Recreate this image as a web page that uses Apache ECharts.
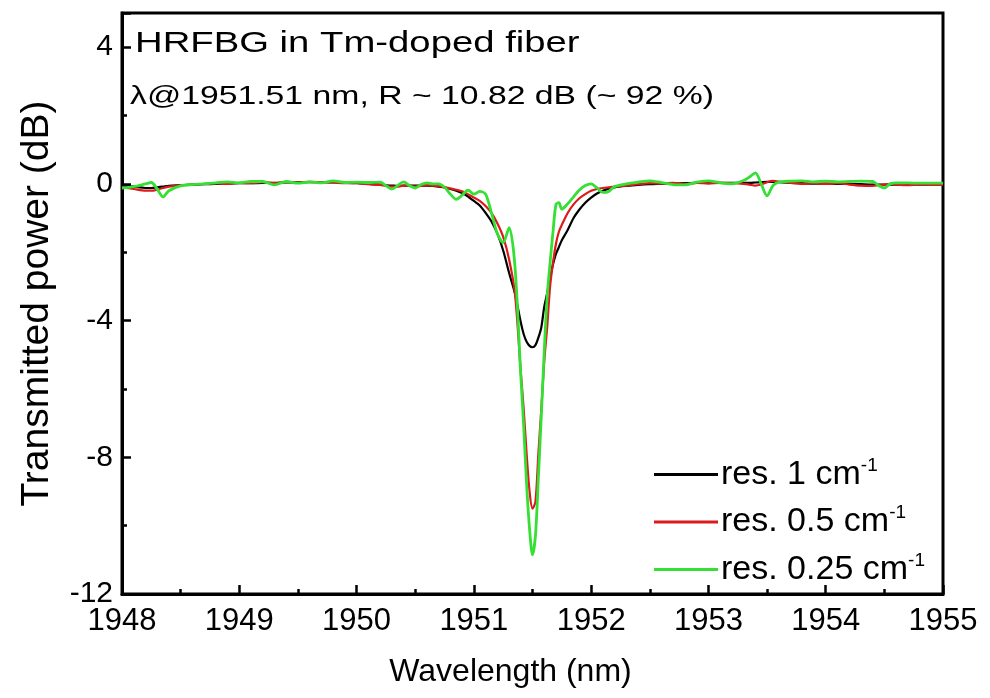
<!DOCTYPE html>
<html>
<head>
<meta charset="utf-8">
<script src="https://cdn.jsdelivr.net/npm/echarts@6/dist/echarts.min.js"></script>
<style>
html,body{margin:0;padding:0;background:#fff;}
#chart{width:990px;height:698px;}
</style>
</head>
<body>
<div id="chart"></div>
<script>
// Wavelength grid (nm)
const wavelengths = [
  1948.00,1948.10,1948.20,1948.25,1948.30,1948.35,1948.40,1948.50,1948.60,1948.70,
  1948.80,1948.90,1949.00,1949.10,1949.20,1949.30,1949.40,1949.50,1949.60,1949.70,
  1949.80,1949.90,1950.00,1950.10,1950.20,1950.25,1950.30,1950.35,1950.40,1950.45,
  1950.50,1950.55,1950.60,1950.65,1950.70,1950.75,1950.80,1950.85,1950.90,1950.95,
  1951.00,1951.05,1951.10,1951.15,1951.20,1951.25,1951.30,1951.35,1951.40,1951.425,
  1951.45,1951.475,1951.50,1951.525,1951.55,1951.575,1951.60,1951.625,1951.65,1951.675,
  1951.70,1951.725,1951.75,1951.80,1951.85,1951.90,1951.95,1952.00,1952.05,1952.10,
  1952.15,1952.20,1952.30,1952.40,1952.50,1952.60,1952.70,1952.80,1952.90,1953.00,
  1953.10,1953.20,1953.30,1953.35,1953.40,1953.45,1953.50,1953.55,1953.60,1953.70,
  1953.80,1953.90,1954.00,1954.10,1954.20,1954.30,1954.40,1954.45,1954.50,1954.55,
  1954.60,1954.70,1954.80,1954.90,1955.00
];
// res. 1 cm-1 (black)
const res1 = [
  -0.05,-0.08,-0.12,-0.12,-0.10,-0.08,-0.06,-0.04,-0.02,-0.01,
  0.00,0.01,0.02,0.02,0.03,0.03,0.04,0.05,0.05,0.05,
  0.04,0.03,0.02,0.00,-0.02,-0.04,-0.05,-0.06,-0.05,-0.05,
  -0.05,-0.05,-0.05,-0.06,-0.08,-0.10,-0.15,-0.20,-0.27,-0.37,
  -0.50,-0.63,-0.85,-1.10,-1.45,-1.95,-2.60,-3.20,-4.05,-4.40,
  -4.62,-4.74,-4.78,-4.72,-4.50,-4.20,-3.60,-3.20,-2.75,-2.35,
  -2.05,-1.85,-1.65,-1.35,-1.00,-0.75,-0.55,-0.40,-0.28,-0.20,
  -0.14,-0.10,-0.06,-0.03,-0.01,0.00,0.01,0.02,0.03,0.03,
  0.03,0.03,0.03,0.03,0.04,0.05,0.06,0.06,0.05,0.03,
  0.02,0.01,0.01,0.00,0.00,-0.01,-0.02,-0.02,-0.02,-0.02,
  -0.02,-0.02,-0.02,-0.02,-0.02
];
// res. 0.5 cm-1 (red)
const res05 = [
  -0.10,-0.15,-0.20,-0.20,-0.17,-0.12,-0.08,-0.04,-0.02,0.00,
  0.02,0.00,0.03,0.02,0.05,0.02,0.05,0.04,0.06,0.05,
  0.04,0.02,0.03,-0.01,-0.03,-0.06,-0.08,-0.08,-0.05,-0.06,
  -0.08,-0.06,-0.04,-0.05,-0.07,-0.10,-0.13,-0.17,-0.22,-0.30,
  -0.40,-0.50,-0.65,-0.85,-1.15,-1.55,-2.20,-3.20,-5.50,-6.60,
  -7.90,-9.00,-9.50,-9.30,-7.90,-6.60,-5.20,-4.20,-3.00,-2.30,
  -1.75,-1.40,-1.20,-0.85,-0.60,-0.42,-0.30,-0.20,-0.15,-0.12,
  -0.10,-0.08,-0.05,-0.01,0.02,0.01,0.03,0.00,0.03,0.01,
  0.03,0.02,0.00,-0.02,-0.05,-0.02,0.05,0.09,0.07,0.03,
  0.00,0.02,0.00,0.02,-0.02,-0.05,-0.06,-0.04,-0.02,0.00,
  -0.02,-0.04,-0.02,-0.03,-0.02
];
// res. 0.25 cm-1 (green)
const res025 = [
  -0.12,-0.08,0.00,0.04,-0.15,-0.38,-0.20,-0.06,-0.02,0.00,
  0.03,0.06,0.03,0.07,0.07,-0.03,0.07,0.02,0.06,0.03,
  0.09,0.04,0.05,0.04,0.05,-0.05,-0.15,-0.05,0.06,-0.05,
  -0.12,-0.02,0.03,0.00,0.00,-0.10,-0.30,-0.45,-0.33,-0.18,
  -0.30,-0.22,-0.30,-0.85,-1.45,-1.72,-1.28,-2.40,-5.60,-7.10,
  -8.80,-10.10,-10.85,-10.30,-8.60,-6.80,-4.90,-3.30,-2.30,-1.40,
  -0.60,-0.55,-0.74,-0.58,-0.38,-0.18,-0.05,0.00,-0.12,-0.25,
  -0.22,-0.08,0.00,0.05,0.09,0.04,-0.02,-0.03,0.05,0.09,
  0.03,0.00,0.10,0.20,0.32,0.00,-0.35,-0.05,0.05,0.08,
  0.09,0.06,0.08,0.06,0.07,0.08,0.07,-0.05,-0.12,0.00,
  0.03,0.03,0.02,0.02,0.02
];
const seriesNames = ['res. 1 cm-1', 'res. 0.5 cm-1', 'res. 0.25 cm-1'];
const legendMain = ['res. 1 cm', 'res. 0.5 cm', 'res. 0.25 cm'];
const yTicks = [-12, -8, -4, 0, 4];
const xTicks = [1948, 1949, 1950, 1951, 1952, 1953, 1954, 1955];

const FONT = 'Liberation Sans, Arial, sans-serif';
const pair = vals => wavelengths.map((w, i) => [w, vals[i]]);

const chart = echarts.init(document.getElementById('chart'), null, {renderer: 'canvas'});
const option = {
  backgroundColor: '#fff',
  animation: false,
  grid: {left: 122, right: 47, top: 13, bottom: 104, show: true, borderColor: '#000', borderWidth: 3, backgroundColor: 'transparent'},
  xAxis: {
    type: 'value', min: 1948, max: 1955, interval: 1,
    name: 'Wavelength (nm)', nameLocation: 'middle', nameGap: 62,
    nameTextStyle: {fontFamily: FONT, fontSize: 32, color: '#000', padding: [0, 44, 0, 0]},
    axisLine: {show: true, onZero: false, lineStyle: {color: '#000', width: 3}},
    axisTick: {show: true, inside: true, length: 9, lineStyle: {color: '#000', width: 2.5}},
    minorTick: {show: true, splitNumber: 2, length: 5, lineStyle: {color: '#000', width: 2.5}},
    splitLine: {show: false},
    axisLabel: {fontFamily: FONT, fontSize: 31, color: '#000', margin: 12,
      formatter: v => xTicks.indexOf(v) >= 0 ? String(v) : ''}
  },
  yAxis: {
    type: 'value', min: -12, max: 5, interval: 4,
    name: 'Transmitted power (dB)', nameLocation: 'middle', nameGap: 65,
    nameTextStyle: {fontFamily: FONT, fontSize: 39, color: '#000'},
    axisLine: {show: true, onZero: false, lineStyle: {color: '#000', width: 3}},
    axisTick: {show: true, inside: true, length: 9, lineStyle: {color: '#000', width: 2.5}},
    minorTick: {show: true, splitNumber: 2, length: 5, lineStyle: {color: '#000', width: 2.5}},
    splitLine: {show: false},
    axisLabel: {fontFamily: FONT, fontSize: 30, color: '#000', margin: 9, padding: [6, 0, 0, 0],
      formatter: v => yTicks.indexOf(v) >= 0 ? String(v) : ''}
  },
  legend: {
    orient: 'vertical', left: 649, top: 451, itemGap: 12,
    itemWidth: 64, itemHeight: 3, icon: 'rect',
    data: seriesNames,
    formatter: name => '{a|' + legendMain[seriesNames.indexOf(name)] + '}{s|-1}',
    textStyle: {
      color: '#000', fontFamily: FONT, padding: [0, 0, 0, -2],
      rich: {
        a: {fontFamily: FONT, fontSize: 34, color: '#000', lineHeight: 37},
        s: {fontFamily: FONT, fontSize: 19, color: '#000', verticalAlign: 'top', lineHeight: 37}
      }
    }
  },
  graphic: [
    {type: 'text', left: 135, top: 29, scaleX: 1.32, style: {text: 'HRFBG in Tm-doped fiber', fontFamily: FONT, fontSize: 29, fill: '#000'}},
    {type: 'text', left: 130, top: 85, scaleX: 1.35, style: {text: 'λ@1951.51 nm, R ~ 10.82 dB (~ 92 %)', fontFamily: FONT, fontSize: 25, fill: '#000'}}
  ],
  series: [
    {name: seriesNames[0], type: 'line', data: pair(res1), showSymbol: false, smooth: 0.3,
      lineStyle: {color: '#000000', width: 2.2}, itemStyle: {color: '#000000'}, z: 2},
    {name: seriesNames[1], type: 'line', data: pair(res05), showSymbol: false, smooth: 0.3,
      lineStyle: {color: '#dc1a1a', width: 2.2}, itemStyle: {color: '#dc1a1a'}, z: 3},
    {name: seriesNames[2], type: 'line', data: pair(res025), showSymbol: false, smooth: 0.3,
      lineStyle: {color: '#33e033', width: 2.8}, itemStyle: {color: '#33e033'}, z: 4}
  ]
};
chart.setOption(option);
</script>
</body>
</html>
